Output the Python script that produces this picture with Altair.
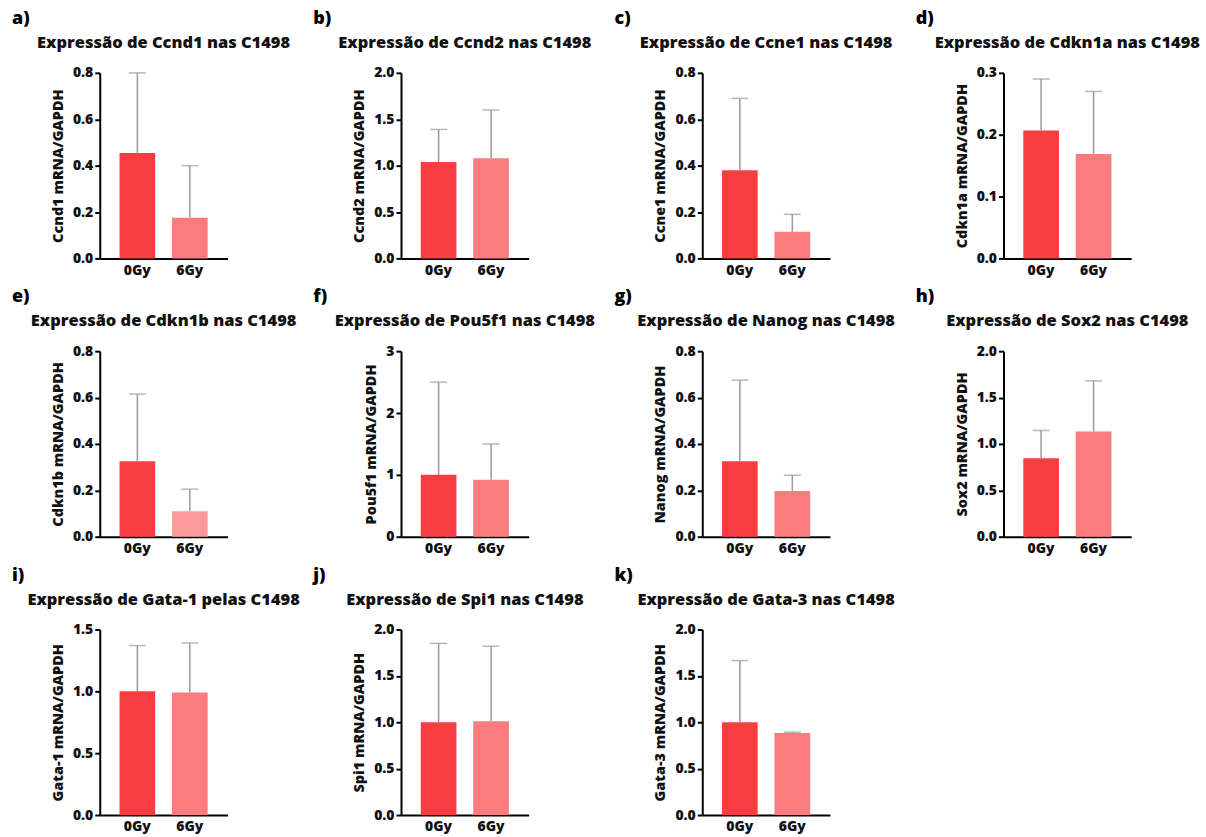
import altair as alt
import pandas as pd

FONT = "Open Sans"
WEIGHT = 800

genes = ["Ccnd1", "Ccnd2", "Ccne1", "Cdkn1a", "Cdkn1b", "Pou5f1",
         "Nanog", "Sox2", "Gata-1", "Spi1", "Gata-3"]
letters = ["a)", "b)", "c)", "d)", "e)", "f)", "g)", "h)", "i)", "j)", "k)"]
titles = ["Expressão de Ccnd1 nas C1498", "Expressão de Ccnd2 nas C1498",
          "Expressão de Ccne1 nas C1498", "Expressão de Cdkn1a nas C1498",
          "Expressão de Cdkn1b nas C1498", "Expressão de Pou5f1 nas C1498",
          "Expressão de Nanog nas C1498", "Expressão de Sox2 nas C1498",
          "Expressão de Gata-1 pelas C1498", "Expressão de Spi1 nas C1498",
          "Expressão de Gata-3 nas C1498"]
y_titles = [g + " mRNA/GAPDH" for g in genes]
conditions = ["0Gy", "6Gy"]

mean_0gy = [0.455, 1.04, 0.38, 0.207, 0.325, 1.00, 0.325, 0.845, 1.00, 1.00, 1.00]
upper_0gy = [0.80, 1.39, 0.69, 0.29, 0.615, 2.50, 0.675, 1.145, 1.37, 1.85, 1.665]
mean_6gy = [0.175, 1.08, 0.115, 0.169, 0.11, 0.92, 0.197, 1.135, 0.99, 1.01, 0.885]
upper_6gy = [0.40, 1.60, 0.19, 0.27, 0.205, 1.50, 0.265, 1.68, 1.39, 1.82, 0.893]

y_ticks = [
    [0, 0.2, 0.4, 0.6, 0.8],
    [0, 0.5, 1.0, 1.5, 2.0],
    [0, 0.2, 0.4, 0.6, 0.8],
    [0, 0.1, 0.2, 0.3],
    [0, 0.2, 0.4, 0.6, 0.8],
    [0, 1, 2, 3],
    [0, 0.2, 0.4, 0.6, 0.8],
    [0, 0.5, 1.0, 1.5, 2.0],
    [0, 0.5, 1.0, 1.5],
    [0, 0.5, 1.0, 1.5, 2.0],
    [0, 0.5, 1.0, 1.5, 2.0],
]
y_formats = [".1f", ".1f", ".1f", ".1f", ".1f", "d", ".1f", ".1f", ".1f", ".1f", ".1f"]

colors_0gy = ["#f83d41"] * 11
colors_6gy = ["#fc7c7e", "#fc7c7e", "#fc7c7e", "#fc7c7e", "#fd9a9b", "#fc7c7e",
              "#fc7c7e", "#fc7c7e", "#fc7c7e", "#fc7c7e", "#fc7c7e"]


def panel(i):
    df = pd.DataFrame({
        "cond": conditions,
        "mean": [mean_0gy[i], mean_6gy[i]],
        "upper": [upper_0gy[i], upper_6gy[i]],
        "color": [colors_0gy[i], colors_6gy[i]],
    })
    x = alt.X("cond:N",
              scale=alt.Scale(domain=conditions, paddingInner=0.32, paddingOuter=0.377),
              axis=alt.Axis(title=None, labelAngle=0, ticks=False, labelPadding=5))
    y_scale = alt.Scale(domain=[0, y_ticks[i][-1]], nice=False, zero=True)
    y_axis = alt.Axis(title=y_titles[i], values=y_ticks[i], format=y_formats[i])
    y = alt.Y("mean:Q", scale=y_scale, axis=y_axis)
    base = alt.Chart(df)
    bars = base.mark_bar().encode(x=x, y=y, color=alt.Color("color:N", scale=None))
    rule = base.mark_rule(color="#9a9a9a", strokeWidth=1.5).encode(
        x=x, y=y, y2="upper:Q")
    cap = base.mark_tick(color="#9a9a9a", thickness=1.5, size=17).encode(
        x=x, y=alt.Y("upper:Q", scale=y_scale, axis=y_axis))
    lab = pd.DataFrame({"t": [letters[i]], "h": [titles[i]]})
    letter = alt.Chart(lab).mark_text(
        align="left", baseline="middle", fontSize=18, fontWeight=WEIGHT,
        font=FONT, color="black").encode(
        x=alt.value(-88), y=alt.value(-54), text="t:N")
    head = alt.Chart(lab).mark_text(
        align="center", baseline="middle", fontSize=16.5, fontWeight=WEIGHT,
        font=FONT, color="#111111").encode(
        x=alt.value(64), y=alt.value(-30), text="h:N")
    return alt.layer(rule, cap, bars, letter, head).properties(
        width=128, height=186)


chart = alt.concat(
    *[panel(i) for i in range(len(genes))],
    columns=4,
    spacing=alt.RowColnumber(row=93, column=174),
    bounds="flush",
).properties(
    padding={"left": 12, "top": 9, "right": 5, "bottom": 5},
    background="white",
).configure_view(stroke=None).configure_axis(
    domainColor="black", domainWidth=2, tickColor="black", tickWidth=2,
    tickSize=5, grid=False, labelFont=FONT, labelFontWeight=WEIGHT,
    labelFontSize=14, labelColor="#111111", titleFont=FONT,
    titleFontWeight=WEIGHT, titleFontSize=14.5, titleColor="#111111",
    labelPadding=2, titlePadding=7,
).configure_axisX(labelPadding=5, labelFontSize=14)

chart.save("out.html", embed_options={"renderer": "svg", "actions": False})
